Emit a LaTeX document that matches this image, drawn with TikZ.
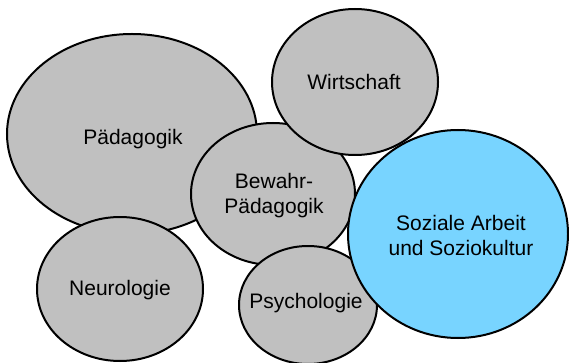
\documentclass[tikz,border=0pt]{standalone}
\usepackage{fontspec}
\setmainfont{Liberation Sans}
\usetikzlibrary{shapes.geometric}
\definecolor{bubblegrey}{HTML}{C0C0C0}
\definecolor{bubbleblue}{HTML}{78D4FF}
\tikzset{
  bubble/.style={ellipse, draw=black, line width=2pt, fill=bubblegrey, inner sep=0pt},
  bluebubble/.style={bubble, fill=bubbleblue},
  lbl/.style={align=center, font=\fontsize{21}{25}\selectfont, inner sep=0pt}
}
\begin{document}
\begin{tikzpicture}[x=1pt,y=-1pt]
\useasboundingbox (0,0) rectangle (569,363);
\node[bubble, minimum width=250pt, minimum height=200pt] (paed) at (132,134) {};
\node[bubble, minimum width=164pt, minimum height=142pt] (bew) at (273,194) {};
\node[bubble, minimum width=166pt, minimum height=146pt] (wirt) at (355,82) {};
\node[bubble, minimum width=166pt, minimum height=144pt] (neuro) at (120,289) {};
\node[bubble, minimum width=138pt, minimum height=118pt] (psy) at (308,305) {};
\node[bluebubble, minimum width=220pt, minimum height=208pt] (soz) at (458,234) {};
\node[lbl] (paedt) at (133,139) {Pädagogik};
\node[lbl] (bewt) at (274,196) {Bewahr-\\Pädagogik};
\node[lbl] (wirtt) at (354,82) {Wirtschaft};
\node[lbl] (neurot) at (120,290) {Neurologie};
\node[lbl] (psyt) at (306,303) {Psychologie};
\node[lbl] (sozt) at (461,235) {Soziale Arbeit\\und Soziokultur};
\end{tikzpicture}
\end{document}
